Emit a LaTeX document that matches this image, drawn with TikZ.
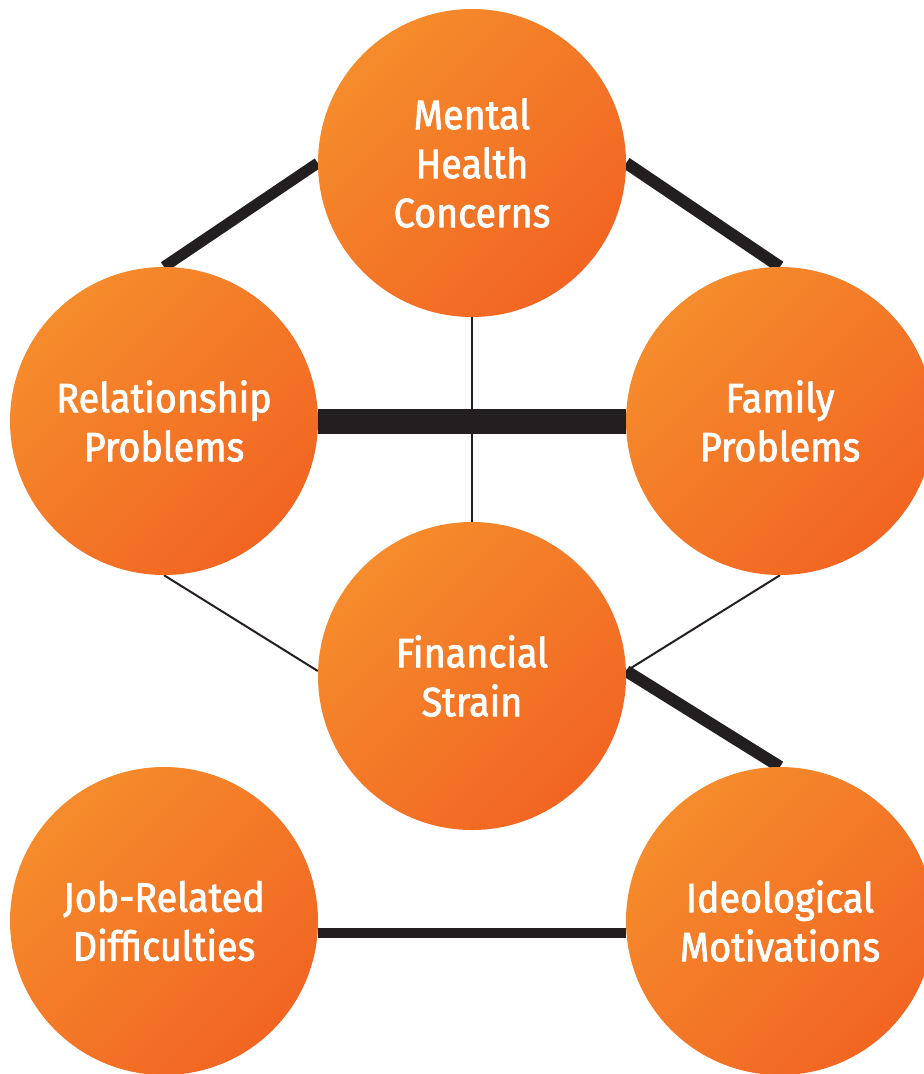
\documentclass[tikz,border=0pt]{standalone}
\usepackage{fontspec}
\setmainfont{Fira Sans}
\newfontfamily\labelfont{Fira Sans}[FakeBold=1.9, FakeStretch=0.92]
\usetikzlibrary{backgrounds}

\definecolor{orangelight}{HTML}{F58C2C}
\definecolor{orangedark}{HTML}{F26522}
\definecolor{linkdark}{HTML}{231F20}

\tikzset{
  factor/.style={circle, minimum size=308pt, inner sep=0pt,
    top color=orangelight, bottom color=orangedark, shading angle=45,
    text=white, align=center, font=\labelfont\fontsize{41}{49}\selectfont},
  weak/.style={draw=linkdark, line width=2pt},
  mid/.style={draw=linkdark, line width=10pt},
  strong/.style={draw=linkdark, line width=12pt},
  strongest/.style={draw=linkdark, line width=25pt}
}

\begin{document}
\begin{tikzpicture}[x=1pt, y=-1pt]
                    \clip (0,0) rectangle (924,1074);
                    \node[factor] (mental) at (472,163) {Mental\\Health\\Concerns};
                    \node[factor] (relation) at (164,421) {Relationship\\Problems};
                    \node[factor] (family) at (780,421) {Family\\Problems};
                    \node[factor] (financial) at (472,676) {Financial\\Strain};
                    \node[factor] (job) at (164,921) {Job-Related\\Difficulties};
                    \node[factor] (ideology) at (780,921) {Ideological\\Motivations};
                    \begin{scope}[on background layer]
                    \draw[mid, line width=11pt] (mental.west) -- (relation.north);
                    \draw[strong] (mental.east) -- (family.north);
                    \draw[strongest] (relation.east) -- (family.west);
                    \draw[weak] (mental.south) -- (financial.north);
                    \draw[weak] (relation.south) -- ([yshift=5pt]financial.west);
                    \draw[weak] (family.south) -- ([yshift=5pt]financial.east);
                    \draw[strong] ([yshift=5pt]financial.east) -- (ideology.north);
                    \draw[mid] ([yshift=-12pt]job.east) -- ([yshift=-12pt]ideology.west);
                    \end{scope}
                \end{tikzpicture}
\end{document}
